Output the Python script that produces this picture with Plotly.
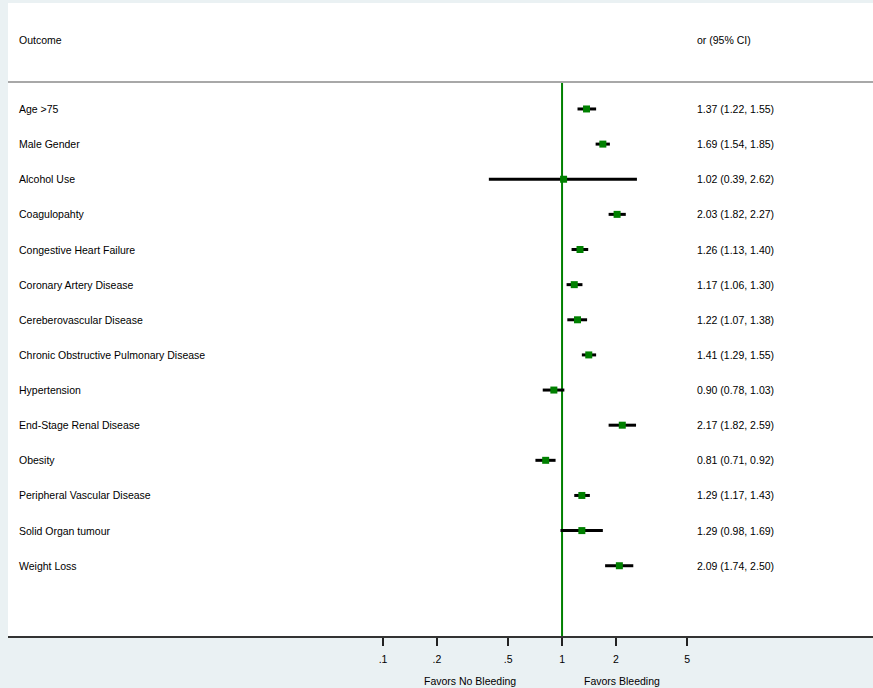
import plotly.graph_objects as go

outcomes = ["Age >75", "Male Gender", "Alcohol Use", "Coagulopahty",
            "Congestive Heart Failure", "Coronary Artery Disease",
            "Cereberovascular Disease", "Chronic Obstructive Pulmonary Disease",
            "Hypertension", "End-Stage Renal Disease", "Obesity",
            "Peripheral Vascular Disease", "Solid Organ tumour", "Weight Loss"]
odds = [1.37, 1.69, 1.02, 2.03, 1.26, 1.17, 1.22, 1.41, 0.90, 2.17, 0.81, 1.29, 1.29, 2.09]
lower = [1.22, 1.54, 0.39, 1.82, 1.13, 1.06, 1.07, 1.29, 0.78, 1.82, 0.71, 1.17, 0.98, 1.74]
upper = [1.55, 1.85, 2.62, 2.27, 1.40, 1.30, 1.38, 1.55, 1.03, 2.59, 0.92, 1.43, 1.69, 2.50]
tick_vals = [0.1, 0.2, 0.5, 1, 2, 5]
tick_text = [".1", ".2", ".5", "1", "2", "5"]

ypos = [-i for i in range(len(outcomes))]
FONT = "Liberation Sans, Arial, sans-serif"
FS = 10.5
GREEN = "#008000"

W, H = 873, 688
ML, MT, MB = 8, 3, 52
PW = W - ML
PH = H - MT - MB

fig = go.Figure()

# CI lines
cx, cy = [], []
for lo, hi, y in zip(lower, upper, ypos):
    cx += [lo, hi, None]
    cy += [y, y, None]
fig.add_trace(go.Scatter(x=cx, y=cy, mode="lines",
                         line=dict(color="black", width=3),
                         hoverinfo="skip", showlegend=False))
# point estimates
fig.add_trace(go.Scatter(x=odds, y=ypos, mode="markers",
                         marker=dict(symbol="square", size=7, color=GREEN),
                         showlegend=False))

def txt(x, y, s, xref="paper", yref="y", xanchor="left"):
    return dict(x=x, xref=xref, y=y, yref=yref, text=s, showarrow=False,
                xanchor=xanchor, yanchor="middle",
                font=dict(family=FONT, size=FS, color="black"))

XL = (17 - ML) / PW
XR = (695 - ML) / PW
annotations = []
for name, o, lo, hi, y in zip(outcomes, odds, lower, upper, ypos):
    annotations.append(txt(XL, y, name))
    annotations.append(txt(XR, y, f"{o:.2f} ({lo:.2f}, {hi:.2f})"))
annotations.append(txt(XL, 1.963, "Outcome"))
annotations.append(txt(XR, 1.963, "or (95% CI)"))
cap_y = -(681 - (H - MB)) / PH
annotations.append(txt((470 - ML) / PW, cap_y, "Favors No Bleeding", yref="paper", xanchor="center"))
annotations.append(txt((622 - ML) / PW, cap_y, "Favors Bleeding", yref="paper", xanchor="center"))

fig.update_layout(
    width=W, height=H,
    margin=dict(l=ML, r=0, t=MT, b=MB),
    paper_bgcolor="#eaf1f3", plot_bgcolor="white",
    showlegend=False,
    annotations=annotations,
    xaxis=dict(type="log", range=[-3.095, 1.737], tickvals=tick_vals, ticktext=tick_text,
               showgrid=False, zeroline=False, showline=True, linecolor="#333333",
               linewidth=2, ticks="outside", ticklen=8, tickwidth=2, tickcolor="#222222",
               ticklabelstandoff=4,
               tickfont=dict(family=FONT, size=FS, color="black"), fixedrange=True),
    yaxis=dict(range=[-15.0, 3.016], showgrid=False, zeroline=False, showticklabels=False,
               showline=False, fixedrange=True),
    shapes=[
        dict(type="line", xref="paper", x0=0, x1=1, yref="y", y0=0.768, y1=0.768,
             line=dict(color="#a8a8a8", width=2)),
        dict(type="line", xref="x", x0=1, x1=1, yref="y", y0=0.768, y1=-15.0,
             line=dict(color=GREEN, width=2), layer="below"),
    ],
)

fig.write_html("out.html", config={"displayModeBar": False},
               post_script="document.body.style.margin='0';document.body.style.padding='0';")
